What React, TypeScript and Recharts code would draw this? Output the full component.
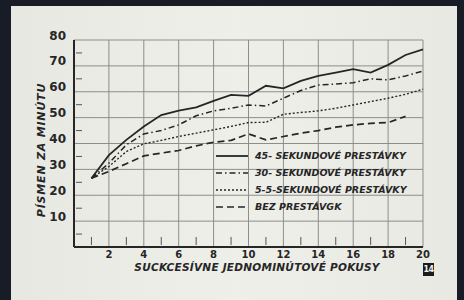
import { LineChart, Line, XAxis, YAxis, CartesianGrid, Legend } from 'recharts';

const trials = [1, 2, 3, 4, 5, 6, 7, 8, 9, 10, 11, 12, 13, 14, 15, 16, 17, 18, 19, 20];
const sec45 = [26.6, 35.5, 41.4, 46.6, 51, 52.7, 54, 56.5, 58.8, 58.4, 62.3, 61.3, 64.2, 66.1, 67.4, 68.7, 67.4, 70.4, 74.2, 76.4];
const sec30 = [26.6, 32.4, 39.5, 43.7, 45, 47.2, 50.7, 52.6, 53.6, 54.9, 54.5, 57.5, 60.5, 62.6, 63, 63.5, 65, 64.6, 66.1, 68];
const sec55 = [26.6, 31.1, 36.9, 39.9, 41.2, 42.7, 44, 45.3, 46.6, 48.1, 48.2, 51.3, 52, 52.6, 53.6, 54.9, 56.2, 57.5, 59, 61];
const noBreak = [26.6, 29.2, 32.2, 35.2, 36.3, 37.3, 39.1, 40.5, 41.2, 43.7, 41.4, 42.7, 44, 45, 46.3, 47.2, 47.8, 48.1, 50.5, null];

// even values carry labels and grid lines, odd ones only a short tick
const xMajor = [2, 4, 6, 8, 10, 12, 14, 16, 18, 20];
const xAll = [1, 2, 3, 4, 5, 6, 7, 8, 9, 10, 11, 12, 13, 14, 15, 16, 17, 18, 19, 20];
const yMajor = [0, 10, 20, 30, 40, 50, 60, 70, 80];
const yAll = [5, 10, 15, 20, 25, 30, 35, 40, 45, 50, 55, 60, 65, 70, 75, 80];

const seriesNames = ['45- SEKUNDOVÉ PRESTÁVKY', '30- SEKUNDOVÉ PRESTÁVKY', '5-5-SEKUNDOVÉ PRESTÁVKY', 'BEZ PRESTÁVGK'];
const xTitle = 'SUCKCESÍVNE JEDNOMINÚTOVÉ POKUSY';
const yTitle = 'PÍSMEN ZA MINÚTU';

const data = trials.map((t, i) => ({
  x: t,
  s45: sec45[i],
  s30: sec30[i],
  s55: sec55[i],
  none: noBreak[i],
}));

const ink = '#262626';
const font = "'DejaVu Sans', 'Liberation Sans', sans-serif";

const styles = [
  { key: 's45', dash: undefined, width: 1.8 },
  { key: 's30', dash: '6 3 1.5 3', width: 1.5 },
  { key: 's55', dash: '2 2', width: 1.4 },
  { key: 'none', dash: '7 4', width: 1.7 },
];

const YTick = ({ x, y, payload }: any) =>
  payload.value % 10 !== 0 ? (
    <line x1={x + 2} x2={x + 8} y1={y} y2={y} stroke="#555" strokeWidth={1} />
  ) : (
    <text x={x - 8} y={y - 4} textAnchor="end" dominantBaseline="middle" fill={ink}
      style={{ fontFamily: font, fontWeight: 700, fontSize: 12 }}>
      {payload.value}
    </text>
  );

const XTick = ({ x, y, payload }: any) =>
  payload.value % 2 !== 0 ? (
    <line x1={x} x2={x} y1={y - 2} y2={y - 10} stroke="#555" strokeWidth={1} />
  ) : (
    <text x={x} y={y + 8} textAnchor="middle" dominantBaseline="middle" fill={ink}
      style={{ fontFamily: font, fontWeight: 700, fontSize: 10 }}>
      {payload.value}
    </text>
  );

const LegendBox = () => (
  <div style={{ fontFamily: font, fontWeight: 700, fontStyle: 'italic', fontSize: 9.5, color: ink }}>
    {seriesNames.map((name, i) => (
      <div key={name} style={{ display: 'flex', alignItems: 'center', height: 17 }}>
        <svg width={37} height={6} style={{ marginRight: 2 }}>
          <line x1={0} x2={32} y1={3} y2={3} stroke={ink} strokeWidth={styles[i].width} strokeDasharray={styles[i].dash} />
        </svg>
        <span style={{ whiteSpace: 'nowrap' }}>{name}</span>
      </div>
    ))}
  </div>
);

export default function App() {
  return (
    <div style={{ position: 'absolute', left: 0, top: 0, width: 464, height: 300, background: '#171c27', overflow: 'hidden' }}>
      <div style={{ position: 'absolute', left: 11, top: 6, width: 446, height: 300, background: 'linear-gradient(90deg, #e8e8e2, #efefea 50%, #e9e9e3)' }} />
      <div style={{ position: 'absolute', left: 0, top: 0 }}>
        <LineChart width={464} height={300} data={data} margin={{ top: 40, right: 41, bottom: 33, left: 44 }}>
          <CartesianGrid stroke="#8d8d8a" strokeWidth={1} horizontalValues={yMajor} verticalValues={xMajor} />
          <XAxis dataKey="x" type="number" domain={[0, 20]} ticks={xAll} interval={0} height={20}
            axisLine={{ stroke: ink, strokeWidth: 2 }} tickLine={false} tickSize={0} tickMargin={0} tick={<XTick />} />
          <YAxis type="number" domain={[0, 80]} ticks={yAll} interval={0} width={30}
            axisLine={{ stroke: ink, strokeWidth: 2 }} tickLine={false} tickSize={0} tickMargin={0} tick={<YTick />} />
          <Legend layout="vertical" align="center" verticalAlign="middle" content={<LegendBox />}
            wrapperStyle={{ position: 'absolute', left: 216, top: 147, width: 230 }} />
          {styles.map((s, i) => (
            <Line key={s.key} dataKey={s.key} name={seriesNames[i]} type="linear" stroke={ink} strokeWidth={s.width}
              strokeDasharray={s.dash} dot={false} isAnimationActive={false} />
          ))}
          <text x={257} y={268} textAnchor="middle" dominantBaseline="middle" fill={ink}
            style={{ fontFamily: font, fontWeight: 700, fontStyle: 'italic', fontSize: 10.5, letterSpacing: 0.25 }}>
            {xTitle}
          </text>
          <text x={42} y={150} transform="rotate(-90 42 150)" textAnchor="middle" dominantBaseline="middle" fill={ink}
            style={{ fontFamily: font, fontWeight: 700, fontStyle: 'italic', fontSize: 11, letterSpacing: 0.8 }}>
            {yTitle}
          </text>
        </LineChart>
      </div>
      <div style={{ position: 'absolute', left: 423, top: 263, width: 11, height: 13, background: '#1b1b1b', color: '#f2f2f2',
        fontFamily: font, fontWeight: 700, fontSize: 8, letterSpacing: -0.5, lineHeight: '13px', textAlign: 'center' }}>14</div>
    </div>
  );
}
